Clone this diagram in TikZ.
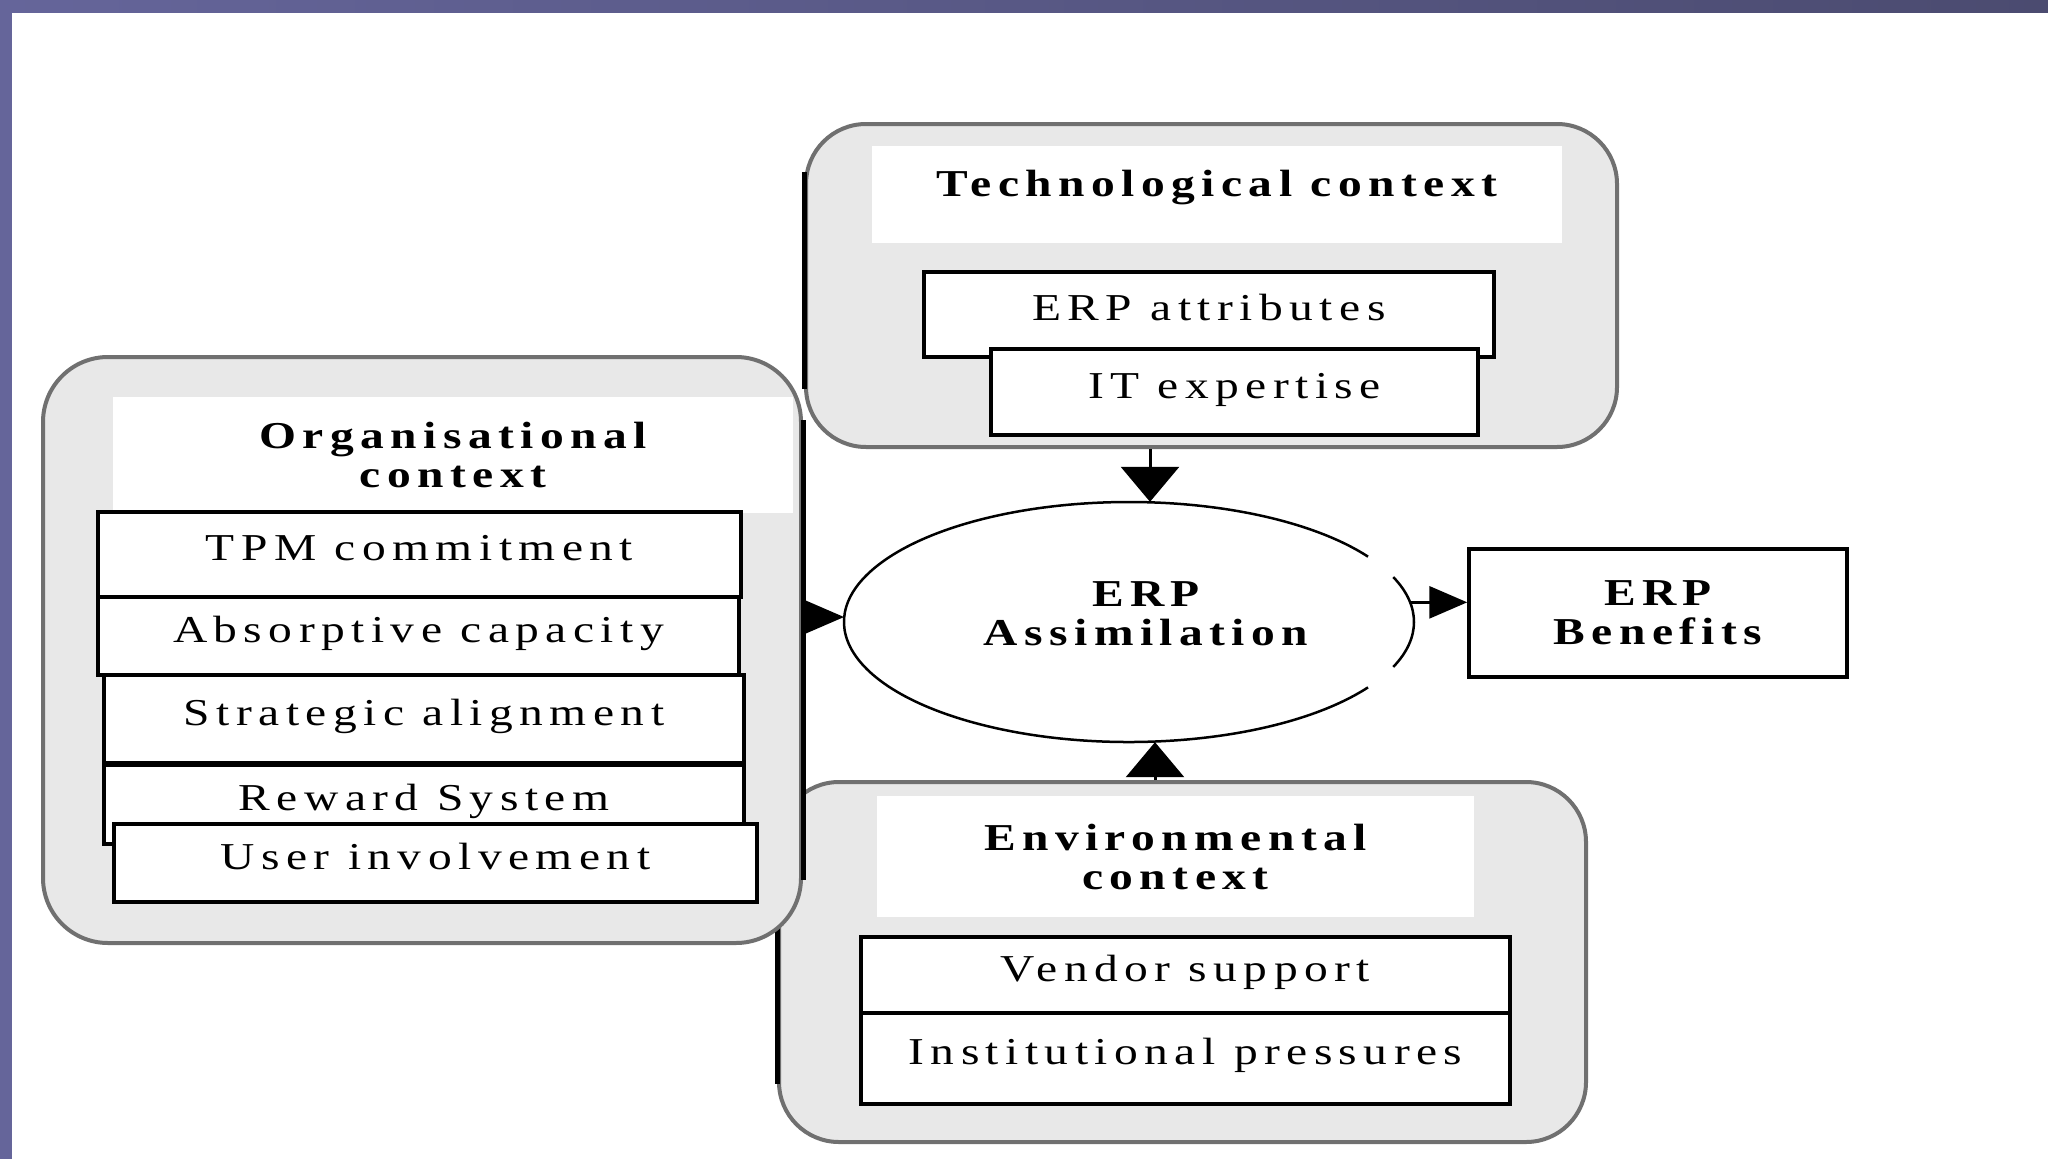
\documentclass[tikz,border=0pt]{standalone}
\usepackage{fontspec}
\setmainfont{Liberation Serif}[LetterSpace=17, FakeStretch=1.25]
\usetikzlibrary{arrows.meta,shapes.geometric}
\definecolor{barL}{HTML}{65659A}
\definecolor{barR}{HTML}{4B4B70}
\definecolor{ctxfill}{HTML}{E8E8E8}
\definecolor{ctxline}{HTML}{707070}
\newcommand\hdfont{\fontsize{38}{39}\selectfont\bfseries}
\newcommand\itfont{\fontsize{38}{39}\selectfont}
\begin{document}
\begin{tikzpicture}[x=1pt,y=-1pt,
  ctx/.style={rectangle, rounded corners=60pt, fill=ctxfill, draw=ctxline, line width=4pt, inner sep=0pt},
  blackedge/.style={draw=black, line width=5pt},
  hdr/.style={rectangle, fill=white, inner sep=0pt, font=\hdfont, align=center},
  item/.style={rectangle, fill=white, draw=black, line width=3.5pt, inner sep=0pt, font=\itfont, text height=25pt, text depth=13pt},
  bitem/.style={rectangle, fill=white, draw=black, line width=3.5pt, inner sep=0pt, font=\hdfont, align=center},
  ellline/.style={draw=black, line width=2.5pt},
  varr/.style={line width=3pt, -{Triangle[length=35pt,width=58pt]}},
  harr/.style={line width=3pt, -{Triangle[length=38pt,width=32pt]}}
]
\useasboundingbox (0,0) rectangle (2048,1159);
\fill[white] (0,0) rectangle (2048,1159);
\fill[left color=barL, right color=barR] (0,0) rectangle (2048,12);
\fill[barL] (0,0) rectangle (12,1159);

% environmental context (drawn first, under the organisational one)
\node[ctx, minimum width=807pt, minimum height=360pt] (env) at (1182.5,962) {};
\draw[blackedge] ([yshift=-60pt]env.north west) -- ([yshift=60pt]env.south west);
% organisational context
\node[ctx, rounded corners=65pt, minimum width=758pt, minimum height=586pt] (org) at (422,650) {};
\draw[blackedge] ([yshift=-65pt]org.north east) -- ([yshift=65pt]org.south east);
% technological context
\node[ctx, minimum width=811pt, minimum height=323pt] (tech) at (1211.5,285.5) {};
\draw[blackedge] ([yshift=-50pt]tech.north west) -- ([yshift=60pt]tech.south west);

% headers
\node[hdr, minimum width=690pt, minimum height=97pt, text height=25pt, text depth=22pt] (techh) at (1217,194.5) {Technological context};
\node[hdr, minimum width=680pt, minimum height=116pt] (orgh) at (453,455) {Organisational\\context};
\node[hdr, minimum width=597pt, minimum height=121pt] (envh) at (1175.5,856.5) {Environmental\\context};

% technological items
\node[item, minimum width=570pt, minimum height=85pt] (attr) at (1209,314.5) {ERP attributes};
\node[item, minimum width=487pt, minimum height=86pt] (itexp) at (1234.5,392) {IT expertise};

% organisational items
\node[item, minimum width=643pt, minimum height=85pt] (tpm) at (419.5,554.5) {TPM commitment};
\node[item, minimum width=641pt, minimum height=78pt] (absc) at (418.5,636) {Absorptive capacity};
\node[item, minimum width=640pt, minimum height=88pt] (strat) at (424,719) {Strategic alignment};
\node[item, minimum width=640pt, minimum height=79pt] (rew) at (424,804.5) {Reward System};
\node[item, minimum width=643pt, minimum height=78pt] (user) at (435.5,863) {User involvement};

% environmental items
\node[item, minimum width=649pt, minimum height=76pt] (vend) at (1185.5,975) {Vendor support};
\node[item, minimum width=649pt, minimum height=91pt] (inst) at (1185.5,1058.5) {Institutional pressures};

% ERP assimilation (ellipse drawn as arcs with small gaps on the right)
\node[ellipse, draw=none, minimum width=570pt, minimum height=240pt, inner sep=0pt] (ell) at (1129,622) {};
\draw[ellline] (ell.center) ++(33:285 and 120) arc[start angle=33, end angle=327, x radius=285, y radius=120];
\draw[ellline] (ell.center) ++(-22:285 and 120) arc[start angle=-22, end angle=22, x radius=285, y radius=120];
\node[font=\hdfont, align=center, inner sep=0pt] (ellt) at (1146,614) {ERP\\Assimilation};

% ERP benefits
\node[bitem, minimum width=378pt, minimum height=128pt] (ben) at (1658,613) {ERP\\Benefits};

% connectors
\draw[varr] ([xshift=21pt]ell.north |- tech.south) -- ([xshift=21pt]ell.north);
\draw[varr] ([xshift=26pt]ell.south |- env.north) -- ([xshift=26pt]ell.south);
\draw[harr] (ell.179 -| org.east) -- (ell.179);
\draw[harr] (ell.4) -- (ell.4 -| ben.west);
\end{tikzpicture}
\end{document}
